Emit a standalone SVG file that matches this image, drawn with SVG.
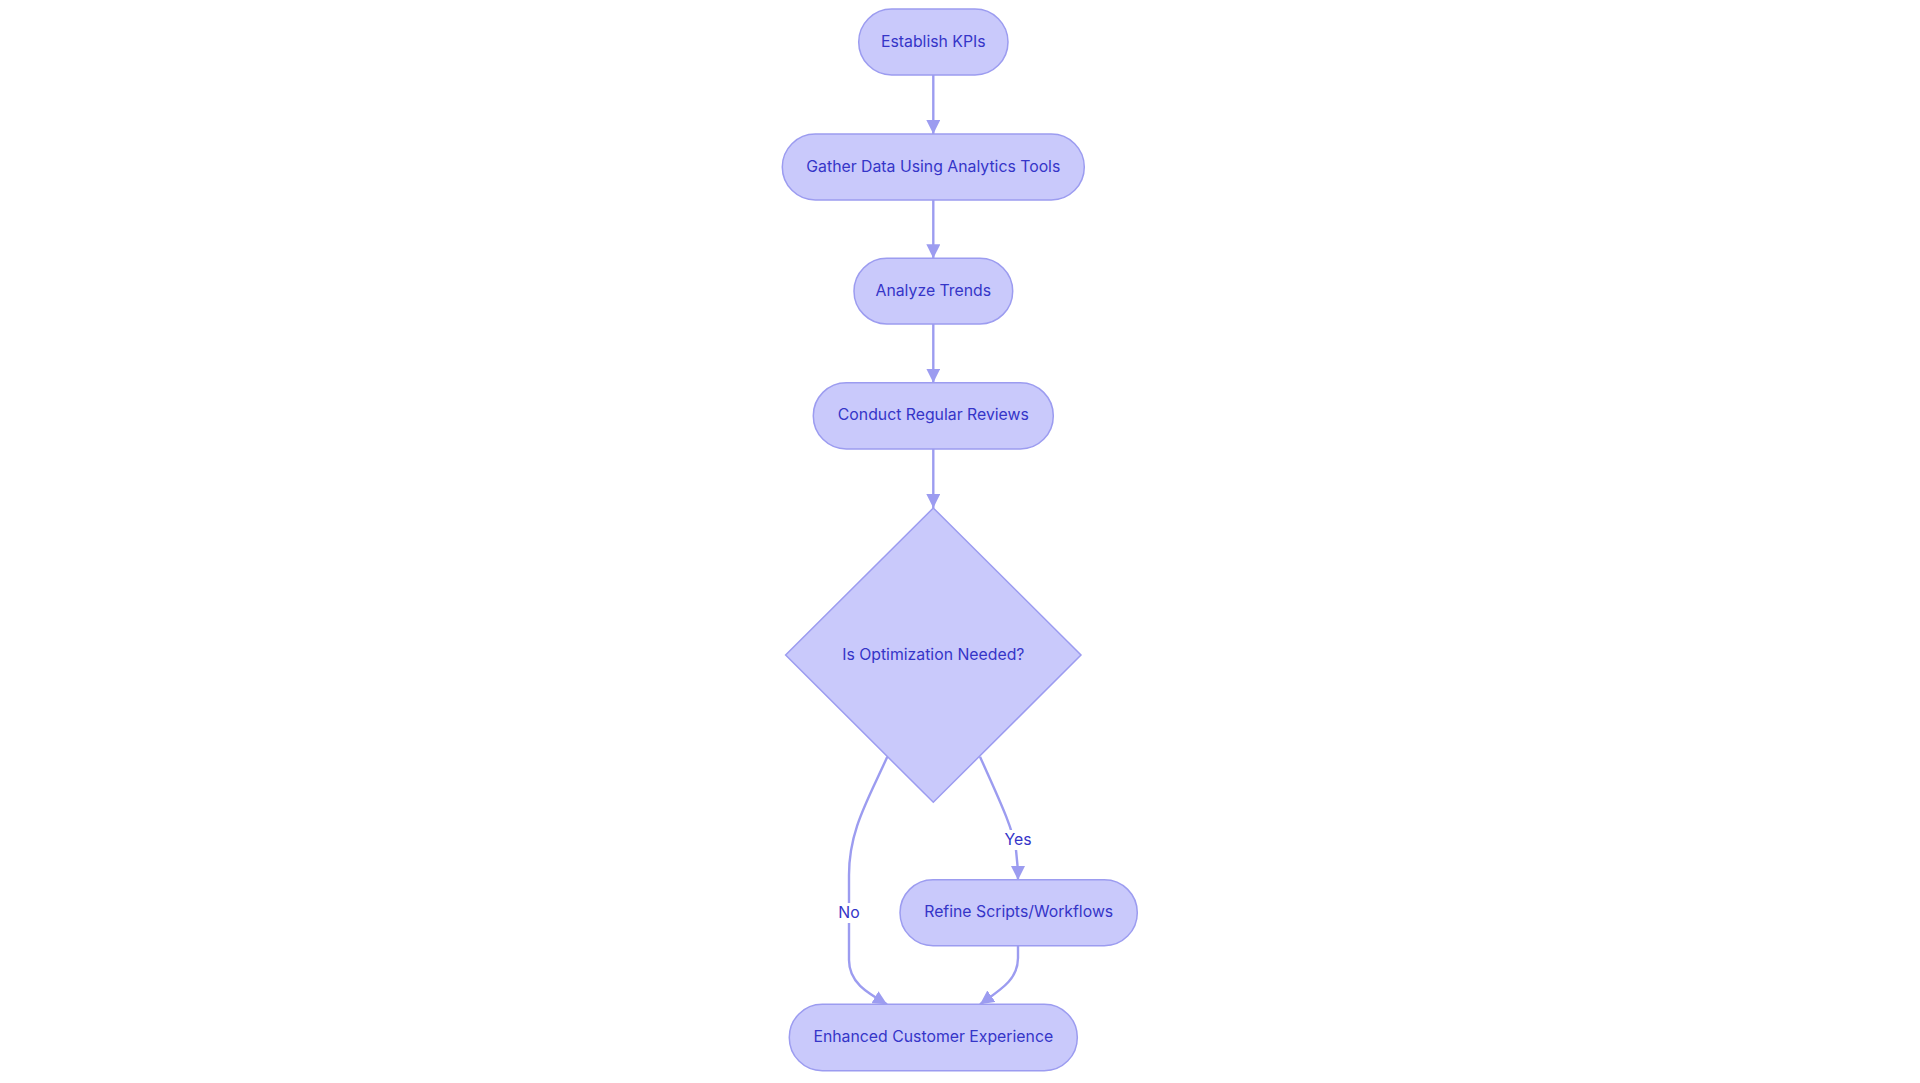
<svg xmlns="http://www.w3.org/2000/svg" width="1920" height="1083" viewBox="0 0 1920 1083">
<style>
.node{fill:#c9c9fb;stroke:#9c9cf0;stroke-width:1.5}
.lbl{font-family:Inter,"Liberation Sans",sans-serif;font-size:15.8px;fill:#3535c8;text-anchor:middle;dominant-baseline:central}
.edge{fill:none;stroke:#9c9cf0;stroke-width:2.4}
.ebg{fill:#ffffff}
</style>
<defs>
<marker id="arr" markerUnits="userSpaceOnUse" markerWidth="14" markerHeight="14" refX="14" refY="7" orient="auto">
<path d="M0,0 L14,7 L0,14 z" fill="#9c9cf0"/>
</marker>
</defs>
<rect width="1920" height="1083" fill="#ffffff"/>
<g id="connectors">
<path class="edge" d="M933.3,75 L933.3,134" marker-end="url(#arr)"/>
<path class="edge" d="M933.3,200 L933.3,258.3" marker-end="url(#arr)"/>
<path class="edge" d="M933.3,324 L933.3,382.7" marker-end="url(#arr)"/>
<path class="edge" d="M933.3,449 L933.3,508" marker-end="url(#arr)"/>
<path class="edge" d="M980,756.7 C998,797 1013,828 1016,850 C1017.5,862 1018,872 1018,880" marker-end="url(#arr)"/>
<path class="edge" d="M887.3,756.7 C868,800 849,830 849,875 L849,960 C849,982 866,992 887,1004.3" marker-end="url(#arr)"/>
<path class="edge" d="M1018,945.7 L1018,958 C1018,980 1000,990 980,1004.3" marker-end="url(#arr)"/>
<g id="label-yes">
<rect class="ebg" x="1002" y="830" width="32" height="20"/>
<text class="lbl" x="1018" y="839">Yes</text>
</g>
<g id="label-no">
<rect class="ebg" x="836" y="903" width="26" height="20"/>
<text class="lbl" x="849" y="912">No</text>
</g>
</g>
<g id="n1">
<rect class="node" x="858.7" y="9" width="149.3" height="66" rx="33"/>
<text class="lbl" x="933.3" y="41">Establish KPIs</text>
</g>
<g id="n2">
<rect class="node" x="782.3" y="134" width="302" height="66" rx="33"/>
<text class="lbl" x="933.3" y="166">Gather Data Using Analytics Tools</text>
</g>
<g id="n3">
<rect class="node" x="854" y="258.3" width="158.7" height="65.7" rx="32.8"/>
<text class="lbl" x="933.3" y="290.2">Analyze Trends</text>
</g>
<g id="n4">
<rect class="node" x="813.3" y="382.7" width="240" height="66.3" rx="33"/>
<text class="lbl" x="933.3" y="414.8">Conduct Regular Reviews</text>
</g>
<g id="n5">
<polygon class="node" points="933.3,508 1081,655 933.3,802.3 785.6,655"/>
<text class="lbl" x="933.3" y="654">Is Optimization Needed?</text>
</g>
<g id="n6">
<rect class="node" x="900" y="879.7" width="237.3" height="66" rx="33"/>
<text class="lbl" x="1018.7" y="911.7">Refine Scripts/Workflows</text>
</g>
<g id="n7">
<rect class="node" x="789.3" y="1004.3" width="288" height="66.4" rx="33"/>
<text class="lbl" x="933.3" y="1036.5">Enhanced Customer Experience</text>
</g>
</svg>
